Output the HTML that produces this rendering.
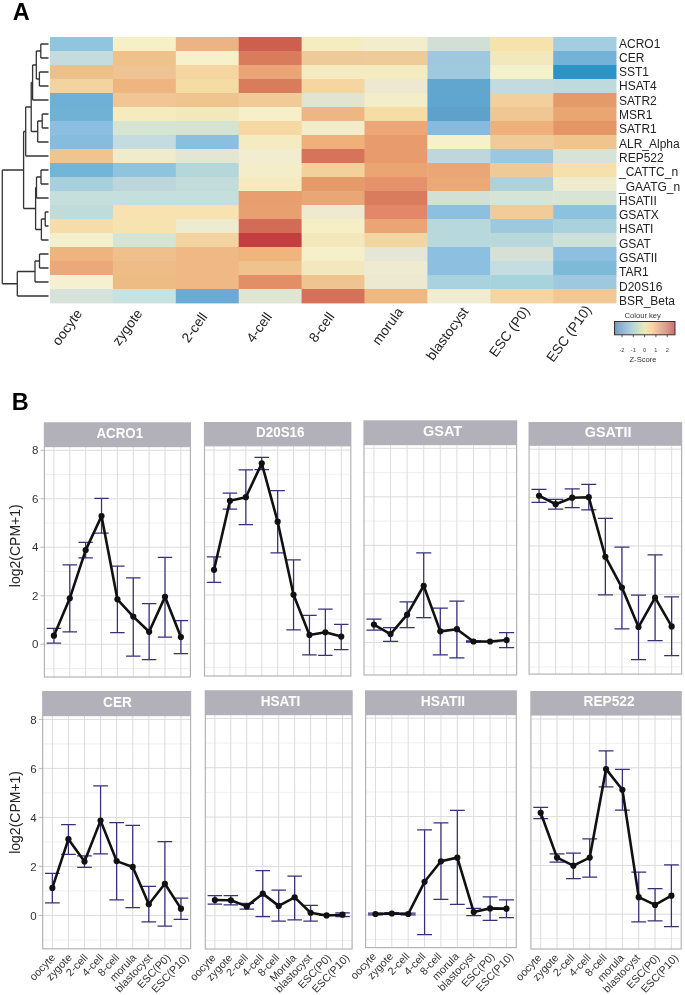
<!DOCTYPE html>
<html><head><meta charset="utf-8"><style>
html,body{margin:0;padding:0;background:#fff;}
svg{display:block;font-family:"Liberation Sans", sans-serif;will-change:transform;}
</style></head><body>
<svg width="685" height="995" viewBox="0 0 685 995">
<rect x="50.00" y="37.00" width="63.30" height="14.40" fill="#8fc6dd"/>
<rect x="50.00" y="51.00" width="63.30" height="14.40" fill="#c5dcdf"/>
<rect x="50.00" y="65.00" width="63.30" height="14.40" fill="#ecc08a"/>
<rect x="50.00" y="79.00" width="63.30" height="14.40" fill="#f3d39f"/>
<rect x="50.00" y="93.00" width="63.30" height="14.40" fill="#6fb1d6"/>
<rect x="50.00" y="107.00" width="63.30" height="14.40" fill="#70b2d6"/>
<rect x="50.00" y="121.00" width="63.30" height="14.40" fill="#8bbee0"/>
<rect x="50.00" y="135.00" width="63.30" height="14.40" fill="#86bcdd"/>
<rect x="50.00" y="149.00" width="63.30" height="14.40" fill="#f0c48f"/>
<rect x="50.00" y="163.00" width="63.30" height="14.40" fill="#72b5d6"/>
<rect x="50.00" y="177.00" width="63.30" height="14.40" fill="#a8d0dc"/>
<rect x="50.00" y="191.00" width="63.30" height="14.40" fill="#c5e0dc"/>
<rect x="50.00" y="205.00" width="63.30" height="14.40" fill="#bddcda"/>
<rect x="50.00" y="219.00" width="63.30" height="14.40" fill="#f6dca8"/>
<rect x="50.00" y="233.00" width="63.30" height="14.40" fill="#f3f1cd"/>
<rect x="50.00" y="247.00" width="63.30" height="14.40" fill="#eeb47f"/>
<rect x="50.00" y="261.00" width="63.30" height="14.40" fill="#eba87b"/>
<rect x="50.00" y="275.00" width="63.30" height="14.40" fill="#f5f0cf"/>
<rect x="50.00" y="289.00" width="63.30" height="14.40" fill="#d6e3db"/>
<rect x="112.90" y="37.00" width="63.30" height="14.40" fill="#f5f0c8"/>
<rect x="112.90" y="51.00" width="63.30" height="14.40" fill="#efc28c"/>
<rect x="112.90" y="65.00" width="63.30" height="14.40" fill="#f0c394"/>
<rect x="112.90" y="79.00" width="63.30" height="14.40" fill="#eeb580"/>
<rect x="112.90" y="93.00" width="63.30" height="14.40" fill="#f0c694"/>
<rect x="112.90" y="107.00" width="63.30" height="14.40" fill="#f5ebbd"/>
<rect x="112.90" y="121.00" width="63.30" height="14.40" fill="#d6e4d2"/>
<rect x="112.90" y="135.00" width="63.30" height="14.40" fill="#c4dbdf"/>
<rect x="112.90" y="149.00" width="63.30" height="14.40" fill="#efebcc"/>
<rect x="112.90" y="163.00" width="63.30" height="14.40" fill="#8ec4de"/>
<rect x="112.90" y="177.00" width="63.30" height="14.40" fill="#bcd6dc"/>
<rect x="112.90" y="191.00" width="63.30" height="14.40" fill="#c5e0dc"/>
<rect x="112.90" y="205.00" width="63.30" height="14.40" fill="#f7e2b0"/>
<rect x="112.90" y="219.00" width="63.30" height="14.40" fill="#f7e3b0"/>
<rect x="112.90" y="233.00" width="63.30" height="14.40" fill="#d5e5d4"/>
<rect x="112.90" y="247.00" width="63.30" height="14.40" fill="#efc08b"/>
<rect x="112.90" y="261.00" width="63.30" height="14.40" fill="#efbb86"/>
<rect x="112.90" y="275.00" width="63.30" height="14.40" fill="#edbc85"/>
<rect x="112.90" y="289.00" width="63.30" height="14.40" fill="#c8e2df"/>
<rect x="175.80" y="37.00" width="63.30" height="14.40" fill="#eeb383"/>
<rect x="175.80" y="51.00" width="63.30" height="14.40" fill="#f6f1cb"/>
<rect x="175.80" y="65.00" width="63.30" height="14.40" fill="#f5d6a0"/>
<rect x="175.80" y="79.00" width="63.30" height="14.40" fill="#f5dca5"/>
<rect x="175.80" y="93.00" width="63.30" height="14.40" fill="#efc48e"/>
<rect x="175.80" y="107.00" width="63.30" height="14.40" fill="#f3e8bb"/>
<rect x="175.80" y="121.00" width="63.30" height="14.40" fill="#d5e3d2"/>
<rect x="175.80" y="135.00" width="63.30" height="14.40" fill="#8bbfe0"/>
<rect x="175.80" y="149.00" width="63.30" height="14.40" fill="#e2e6d2"/>
<rect x="175.80" y="163.00" width="63.30" height="14.40" fill="#b4d8da"/>
<rect x="175.80" y="177.00" width="63.30" height="14.40" fill="#c2dcdc"/>
<rect x="175.80" y="191.00" width="63.30" height="14.40" fill="#c5e0dc"/>
<rect x="175.80" y="205.00" width="63.30" height="14.40" fill="#f7e3b0"/>
<rect x="175.80" y="219.00" width="63.30" height="14.40" fill="#eeecd0"/>
<rect x="175.80" y="233.00" width="63.30" height="14.40" fill="#f3d39f"/>
<rect x="175.80" y="247.00" width="63.30" height="14.40" fill="#efb884"/>
<rect x="175.80" y="261.00" width="63.30" height="14.40" fill="#efb884"/>
<rect x="175.80" y="275.00" width="63.30" height="14.40" fill="#efb884"/>
<rect x="175.80" y="289.00" width="63.30" height="14.40" fill="#69abd5"/>
<rect x="238.70" y="37.00" width="63.30" height="14.40" fill="#ce5e4e"/>
<rect x="238.70" y="51.00" width="63.30" height="14.40" fill="#d87c5c"/>
<rect x="238.70" y="65.00" width="63.30" height="14.40" fill="#eaa576"/>
<rect x="238.70" y="79.00" width="63.30" height="14.40" fill="#d87c5c"/>
<rect x="238.70" y="93.00" width="63.30" height="14.40" fill="#f1ca98"/>
<rect x="238.70" y="107.00" width="63.30" height="14.40" fill="#f6efc9"/>
<rect x="238.70" y="121.00" width="63.30" height="14.40" fill="#f6d8a2"/>
<rect x="238.70" y="135.00" width="63.30" height="14.40" fill="#f5ebc1"/>
<rect x="238.70" y="149.00" width="63.30" height="14.40" fill="#f2ecd1"/>
<rect x="238.70" y="163.00" width="63.30" height="14.40" fill="#f3edca"/>
<rect x="238.70" y="177.00" width="63.30" height="14.40" fill="#f5eac0"/>
<rect x="238.70" y="191.00" width="63.30" height="14.40" fill="#e99e6f"/>
<rect x="238.70" y="205.00" width="63.30" height="14.40" fill="#e9a070"/>
<rect x="238.70" y="219.00" width="63.30" height="14.40" fill="#d36c57"/>
<rect x="238.70" y="233.00" width="63.30" height="14.40" fill="#c33f3f"/>
<rect x="238.70" y="247.00" width="63.30" height="14.40" fill="#f0b47c"/>
<rect x="238.70" y="261.00" width="63.30" height="14.40" fill="#eec38d"/>
<rect x="238.70" y="275.00" width="63.30" height="14.40" fill="#e48e67"/>
<rect x="238.70" y="289.00" width="63.30" height="14.40" fill="#e1e6d3"/>
<rect x="301.60" y="37.00" width="63.30" height="14.40" fill="#f5edc2"/>
<rect x="301.60" y="51.00" width="63.30" height="14.40" fill="#eec99a"/>
<rect x="301.60" y="65.00" width="63.30" height="14.40" fill="#f5ebc0"/>
<rect x="301.60" y="79.00" width="63.30" height="14.40" fill="#f5d6a1"/>
<rect x="301.60" y="93.00" width="63.30" height="14.40" fill="#e1e4d0"/>
<rect x="301.60" y="107.00" width="63.30" height="14.40" fill="#eeb682"/>
<rect x="301.60" y="121.00" width="63.30" height="14.40" fill="#f3ecca"/>
<rect x="301.60" y="135.00" width="63.30" height="14.40" fill="#efb07a"/>
<rect x="301.60" y="149.00" width="63.30" height="14.40" fill="#d6735a"/>
<rect x="301.60" y="163.00" width="63.30" height="14.40" fill="#f2d19b"/>
<rect x="301.60" y="177.00" width="63.30" height="14.40" fill="#e59a6a"/>
<rect x="301.60" y="191.00" width="63.30" height="14.40" fill="#e9a676"/>
<rect x="301.60" y="205.00" width="63.30" height="14.40" fill="#efe9d0"/>
<rect x="301.60" y="219.00" width="63.30" height="14.40" fill="#f6eec4"/>
<rect x="301.60" y="233.00" width="63.30" height="14.40" fill="#f3e8bb"/>
<rect x="301.60" y="247.00" width="63.30" height="14.40" fill="#f5f0ca"/>
<rect x="301.60" y="261.00" width="63.30" height="14.40" fill="#f3e7bd"/>
<rect x="301.60" y="275.00" width="63.30" height="14.40" fill="#f0c490"/>
<rect x="301.60" y="289.00" width="63.30" height="14.40" fill="#d6725a"/>
<rect x="364.50" y="37.00" width="63.30" height="14.40" fill="#f3eccd"/>
<rect x="364.50" y="51.00" width="63.30" height="14.40" fill="#efcb9a"/>
<rect x="364.50" y="65.00" width="63.30" height="14.40" fill="#f5ebc0"/>
<rect x="364.50" y="79.00" width="63.30" height="14.40" fill="#ede8cf"/>
<rect x="364.50" y="93.00" width="63.30" height="14.40" fill="#f3eec9"/>
<rect x="364.50" y="107.00" width="63.30" height="14.40" fill="#f5dda5"/>
<rect x="364.50" y="121.00" width="63.30" height="14.40" fill="#eca677"/>
<rect x="364.50" y="135.00" width="63.30" height="14.40" fill="#e89c6d"/>
<rect x="364.50" y="149.00" width="63.30" height="14.40" fill="#e89c6d"/>
<rect x="364.50" y="163.00" width="63.30" height="14.40" fill="#eba573"/>
<rect x="364.50" y="177.00" width="63.30" height="14.40" fill="#e4916c"/>
<rect x="364.50" y="191.00" width="63.30" height="14.40" fill="#d97c5d"/>
<rect x="364.50" y="205.00" width="63.30" height="14.40" fill="#e3876a"/>
<rect x="364.50" y="219.00" width="63.30" height="14.40" fill="#eba474"/>
<rect x="364.50" y="233.00" width="63.30" height="14.40" fill="#f3d5a2"/>
<rect x="364.50" y="247.00" width="63.30" height="14.40" fill="#e4e6d6"/>
<rect x="364.50" y="261.00" width="63.30" height="14.40" fill="#efebd0"/>
<rect x="364.50" y="275.00" width="63.30" height="14.40" fill="#ede9d1"/>
<rect x="364.50" y="289.00" width="63.30" height="14.40" fill="#efb880"/>
<rect x="427.40" y="37.00" width="63.30" height="14.40" fill="#d2dfd5"/>
<rect x="427.40" y="51.00" width="63.30" height="14.40" fill="#9fc8de"/>
<rect x="427.40" y="65.00" width="63.30" height="14.40" fill="#9fcadd"/>
<rect x="427.40" y="79.00" width="63.30" height="14.40" fill="#61a6cf"/>
<rect x="427.40" y="93.00" width="63.30" height="14.40" fill="#5fa7d0"/>
<rect x="427.40" y="107.00" width="63.30" height="14.40" fill="#5ea2cc"/>
<rect x="427.40" y="121.00" width="63.30" height="14.40" fill="#86bade"/>
<rect x="427.40" y="135.00" width="63.30" height="14.40" fill="#f6f1cb"/>
<rect x="427.40" y="149.00" width="63.30" height="14.40" fill="#bfd6dc"/>
<rect x="427.40" y="163.00" width="63.30" height="14.40" fill="#eaa674"/>
<rect x="427.40" y="177.00" width="63.30" height="14.40" fill="#eca875"/>
<rect x="427.40" y="191.00" width="63.30" height="14.40" fill="#d2e0d5"/>
<rect x="427.40" y="205.00" width="63.30" height="14.40" fill="#8dc0e0"/>
<rect x="427.40" y="219.00" width="63.30" height="14.40" fill="#b9d8dc"/>
<rect x="427.40" y="233.00" width="63.30" height="14.40" fill="#b7d8dc"/>
<rect x="427.40" y="247.00" width="63.30" height="14.40" fill="#8cbfe0"/>
<rect x="427.40" y="261.00" width="63.30" height="14.40" fill="#8cbfe0"/>
<rect x="427.40" y="275.00" width="63.30" height="14.40" fill="#a9d1de"/>
<rect x="427.40" y="289.00" width="63.30" height="14.40" fill="#f1ecd0"/>
<rect x="490.30" y="37.00" width="63.30" height="14.40" fill="#f6e2ab"/>
<rect x="490.30" y="51.00" width="63.30" height="14.40" fill="#f3e8bb"/>
<rect x="490.30" y="65.00" width="63.30" height="14.40" fill="#f6f1cd"/>
<rect x="490.30" y="79.00" width="63.30" height="14.40" fill="#c3dbde"/>
<rect x="490.30" y="93.00" width="63.30" height="14.40" fill="#f2cf9c"/>
<rect x="490.30" y="107.00" width="63.30" height="14.40" fill="#f0c693"/>
<rect x="490.30" y="121.00" width="63.30" height="14.40" fill="#eeb17c"/>
<rect x="490.30" y="135.00" width="63.30" height="14.40" fill="#eecb99"/>
<rect x="490.30" y="149.00" width="63.30" height="14.40" fill="#9cc7e0"/>
<rect x="490.30" y="163.00" width="63.30" height="14.40" fill="#efca99"/>
<rect x="490.30" y="177.00" width="63.30" height="14.40" fill="#afd2da"/>
<rect x="490.30" y="191.00" width="63.30" height="14.40" fill="#d6e4d6"/>
<rect x="490.30" y="205.00" width="63.30" height="14.40" fill="#f1cc98"/>
<rect x="490.30" y="219.00" width="63.30" height="14.40" fill="#9dc9de"/>
<rect x="490.30" y="233.00" width="63.30" height="14.40" fill="#b9d8dc"/>
<rect x="490.30" y="247.00" width="63.30" height="14.40" fill="#d6e0d5"/>
<rect x="490.30" y="261.00" width="63.30" height="14.40" fill="#c3dde0"/>
<rect x="490.30" y="275.00" width="63.30" height="14.40" fill="#a7d3dc"/>
<rect x="490.30" y="289.00" width="63.30" height="14.40" fill="#f5d6a2"/>
<rect x="553.20" y="37.00" width="63.30" height="14.40" fill="#a3cde0"/>
<rect x="553.20" y="51.00" width="63.30" height="14.40" fill="#74b3d8"/>
<rect x="553.20" y="65.00" width="63.30" height="14.40" fill="#2b93c5"/>
<rect x="553.20" y="79.00" width="63.30" height="14.40" fill="#bedadc"/>
<rect x="553.20" y="93.00" width="63.30" height="14.40" fill="#e59a6a"/>
<rect x="553.20" y="107.00" width="63.30" height="14.40" fill="#e9a572"/>
<rect x="553.20" y="121.00" width="63.30" height="14.40" fill="#e59665"/>
<rect x="553.20" y="135.00" width="63.30" height="14.40" fill="#efc48d"/>
<rect x="553.20" y="149.00" width="63.30" height="14.40" fill="#d6e3d8"/>
<rect x="553.20" y="163.00" width="63.30" height="14.40" fill="#f6e1ab"/>
<rect x="553.20" y="177.00" width="63.30" height="14.40" fill="#efebcf"/>
<rect x="553.20" y="191.00" width="63.30" height="14.40" fill="#d8e5d6"/>
<rect x="553.20" y="205.00" width="63.30" height="14.40" fill="#8dc2df"/>
<rect x="553.20" y="219.00" width="63.30" height="14.40" fill="#a9d1de"/>
<rect x="553.20" y="233.00" width="63.30" height="14.40" fill="#cde0d9"/>
<rect x="553.20" y="247.00" width="63.30" height="14.40" fill="#8dc0e0"/>
<rect x="553.20" y="261.00" width="63.30" height="14.40" fill="#7cbad8"/>
<rect x="553.20" y="275.00" width="63.30" height="14.40" fill="#9fc8df"/>
<rect x="553.20" y="289.00" width="63.30" height="14.40" fill="#f1c893"/>
<text x="619" y="47.60" font-size="12" fill="#222">ACRO1</text>
<text x="619" y="61.89" font-size="12" fill="#222">CER</text>
<text x="619" y="76.18" font-size="12" fill="#222">SST1</text>
<text x="619" y="90.47" font-size="12" fill="#222">HSAT4</text>
<text x="619" y="104.76" font-size="12" fill="#222">SATR2</text>
<text x="619" y="119.05" font-size="12" fill="#222">MSR1</text>
<text x="619" y="133.34" font-size="12" fill="#222">SATR1</text>
<text x="619" y="147.63" font-size="12" fill="#222">ALR_Alpha</text>
<text x="619" y="161.92" font-size="12" fill="#222">REP522</text>
<text x="619" y="176.21" font-size="12" fill="#222">_CATTC_n</text>
<text x="619" y="190.50" font-size="12" fill="#222">_GAATG_n</text>
<text x="619" y="204.79" font-size="12" fill="#222">HSATII</text>
<text x="619" y="219.08" font-size="12" fill="#222">GSATX</text>
<text x="619" y="233.37" font-size="12" fill="#222">HSATI</text>
<text x="619" y="247.66" font-size="12" fill="#222">GSAT</text>
<text x="619" y="261.95" font-size="12" fill="#222">GSATII</text>
<text x="619" y="276.24" font-size="12" fill="#222">TAR1</text>
<text x="619" y="290.53" font-size="12" fill="#222">D20S16</text>
<text x="619" y="304.82" font-size="12" fill="#222">BSR_Beta</text>
<text transform="translate(74.95,307.8) rotate(-54)" text-anchor="end" dy="0.7em" font-size="13.8" fill="#222">oocyte</text>
<text transform="translate(135.25,307.8) rotate(-54)" text-anchor="end" dy="0.7em" font-size="13.8" fill="#222">zygote</text>
<text transform="translate(200.15,311.2) rotate(-54)" text-anchor="end" dy="0.7em" font-size="13.8" fill="#222">2-cell</text>
<text transform="translate(264.75,311.1) rotate(-54)" text-anchor="end" dy="0.7em" font-size="13.8" fill="#222">4-cell</text>
<text transform="translate(327.25,310.9) rotate(-54)" text-anchor="end" dy="0.7em" font-size="13.8" fill="#222">8-cell</text>
<text transform="translate(396.05,306.2) rotate(-54)" text-anchor="end" dy="0.7em" font-size="13.8" fill="#222">morula</text>
<text transform="translate(461.25,305.9) rotate(-54)" text-anchor="end" dy="0.7em" font-size="13.8" fill="#222">blastocyst</text>
<text transform="translate(522.45,305.2) rotate(-54)" text-anchor="end" dy="0.7em" font-size="13.8" fill="#222">ESC (P0)</text>
<text transform="translate(584.25,304.0) rotate(-54)" text-anchor="end" dy="0.7em" font-size="13.8" fill="#222">ESC (P10)</text>
<path d="M40.8,44H48.5 M40.8,58H48.5 M40.8,44V58 M39.4,72H48.5 M39.4,86H48.5 M39.4,72V86 M36.3,51H40.8 M36.3,79H39.4 M36.3,51V79 M32.6,65H36.3 M32.6,100H48.5 M32.6,65V100 M42.2,114H48.5 M42.2,128H48.5 M42.2,114V128 M37.7,121H42.2 M37.7,142H48.5 M37.7,121V142 M31.2,82.5H32.6 M31.2,131.5H37.7 M31.2,82.5V131.5 M25.7,107H31.2 M25.7,156H48.5 M25.7,107V156 M23.6,131.5H25.7 M41,170H48.5 M41,184H48.5 M41,170V184 M36.5,177H41 M36.5,198H48.5 M36.5,177V198 M45.2,212H48.5 M45.2,226H48.5 M45.2,212V226 M41.4,219H45.2 M41.4,240H48.5 M41.4,219V240 M35.6,187.5H36.5 M35.6,229.5H41.4 M35.6,187.5V229.5 M23.6,208.5H35.6 M23.6,131.5V208.5 M2.3,170H23.6 M39.5,254H48.5 M39.5,268H48.5 M39.5,254V268 M35,261H39.5 M35,282H48.5 M35,261V282 M17.3,271.5H35 M17.3,296H48.5 M17.3,271.5V296 M2.3,283.75H17.3 M2.3,170V283.75" stroke="#333" stroke-width="1.3" fill="none"/>
<defs><linearGradient id="ck" x1="0" x2="1" y1="0" y2="0"><stop offset="0" stop-color="#4a9fc8"/><stop offset="0.05" stop-color="#7fa9c6"/><stop offset="0.2" stop-color="#a6c0dc"/><stop offset="0.3" stop-color="#b3d6d6"/><stop offset="0.4" stop-color="#cfe2c8"/><stop offset="0.5" stop-color="#ede9b6"/><stop offset="0.62" stop-color="#fbd4a7"/><stop offset="0.75" stop-color="#e9b497"/><stop offset="0.85" stop-color="#d99f8b"/><stop offset="1" stop-color="#cf6d78"/></linearGradient></defs>
<rect x="614.5" y="321.5" width="60.5" height="13.3" fill="url(#ck)" stroke="#3a3330" stroke-width="1"/>
<line x1="622" y1="334.8" x2="622" y2="337.2" stroke="#333" stroke-width="0.8"/>
<text x="622" y="351.5" font-size="5.6" fill="#444" text-anchor="middle">-2</text>
<line x1="633.3" y1="334.8" x2="633.3" y2="337.2" stroke="#333" stroke-width="0.8"/>
<text x="633.3" y="351.5" font-size="5.6" fill="#444" text-anchor="middle">-1</text>
<line x1="644.6" y1="334.8" x2="644.6" y2="337.2" stroke="#333" stroke-width="0.8"/>
<text x="644.6" y="351.5" font-size="5.6" fill="#444" text-anchor="middle">0</text>
<line x1="655.9" y1="334.8" x2="655.9" y2="337.2" stroke="#333" stroke-width="0.8"/>
<text x="655.9" y="351.5" font-size="5.6" fill="#444" text-anchor="middle">1</text>
<line x1="667.2" y1="334.8" x2="667.2" y2="337.2" stroke="#333" stroke-width="0.8"/>
<text x="667.2" y="351.5" font-size="5.6" fill="#444" text-anchor="middle">2</text>
<text x="642.7" y="318.0" font-size="7.6" fill="#333" text-anchor="middle">Colour key</text>
<text x="643" y="361.5" font-size="7.6" fill="#333" text-anchor="middle">Z-Score</text>
<text x="12.7" y="19.7" font-size="23.5" font-weight="bold" fill="#000">A</text>
<text x="11.8" y="409.7" font-size="23.5" font-weight="bold" fill="#000">B</text>
<rect x="44.4" y="446.6" width="146.0" height="230.39999999999998" fill="#fff"/>
<line x1="44.4" x2="190.4" y1="668.50" y2="668.50" stroke="#ebebeb" stroke-width="0.8"/>
<line x1="44.4" x2="190.4" y1="620.01" y2="620.01" stroke="#ebebeb" stroke-width="0.8"/>
<line x1="44.4" x2="190.4" y1="571.52" y2="571.52" stroke="#ebebeb" stroke-width="0.8"/>
<line x1="44.4" x2="190.4" y1="523.03" y2="523.03" stroke="#ebebeb" stroke-width="0.8"/>
<line x1="44.4" x2="190.4" y1="474.54" y2="474.54" stroke="#ebebeb" stroke-width="0.8"/>
<line x1="44.4" x2="190.4" y1="644.26" y2="644.26" stroke="#dcdcdc" stroke-width="1"/>
<line x1="44.4" x2="190.4" y1="595.77" y2="595.77" stroke="#dcdcdc" stroke-width="1"/>
<line x1="44.4" x2="190.4" y1="547.28" y2="547.28" stroke="#dcdcdc" stroke-width="1"/>
<line x1="44.4" x2="190.4" y1="498.79" y2="498.79" stroke="#dcdcdc" stroke-width="1"/>
<line x1="44.4" x2="190.4" y1="450.30" y2="450.30" stroke="#dcdcdc" stroke-width="1"/>
<line x1="53.92" x2="53.92" y1="446.6" y2="677.0" stroke="#dcdcdc" stroke-width="1"/>
<line x1="69.79" x2="69.79" y1="446.6" y2="677.0" stroke="#dcdcdc" stroke-width="1"/>
<line x1="85.66" x2="85.66" y1="446.6" y2="677.0" stroke="#dcdcdc" stroke-width="1"/>
<line x1="101.53" x2="101.53" y1="446.6" y2="677.0" stroke="#dcdcdc" stroke-width="1"/>
<line x1="117.40" x2="117.40" y1="446.6" y2="677.0" stroke="#dcdcdc" stroke-width="1"/>
<line x1="133.27" x2="133.27" y1="446.6" y2="677.0" stroke="#dcdcdc" stroke-width="1"/>
<line x1="149.14" x2="149.14" y1="446.6" y2="677.0" stroke="#dcdcdc" stroke-width="1"/>
<line x1="165.01" x2="165.01" y1="446.6" y2="677.0" stroke="#dcdcdc" stroke-width="1"/>
<line x1="180.88" x2="180.88" y1="446.6" y2="677.0" stroke="#dcdcdc" stroke-width="1"/>
<rect x="44.4" y="446.6" width="146.0" height="230.39999999999998" fill="none" stroke="#b4b4b4" stroke-width="1.2"/>
<rect x="43.8" y="422.3" width="147.2" height="24.30000000000001" fill="#b2b1ba"/>
<text x="119.80" y="438.10" font-size="14" font-weight="bold" fill="#fff" text-anchor="middle" textLength="46.60" lengthAdjust="spacingAndGlyphs">ACRO1</text>
<path d="M46.70,628.42H61.14M46.70,643.12H61.14M53.92,628.42V643.12M62.57,564.79H77.01M62.57,631.79H77.01M69.79,564.79V631.79M78.44,542.38H92.88M78.44,557.80H92.88M85.66,542.38V557.80M94.31,498.28H108.75M94.31,533.22H108.75M101.53,498.28V533.22M110.18,566.00H124.62M110.18,632.51H124.62M117.40,566.00V632.51M126.05,577.81H140.49M126.05,656.13H140.49M133.27,577.81V656.13M141.92,603.59H156.36M141.92,659.51H156.36M149.14,603.59V659.51M157.79,557.32H172.23M157.79,637.09H172.23M165.01,557.32V637.09M173.66,620.71H188.10M173.66,653.72H188.10M180.88,620.71V653.72" stroke="#35307a" stroke-width="1.25" fill="none"/>
<polyline points="53.92,635.65 69.79,598.29 85.66,550.09 101.53,516.11 117.40,599.26 133.27,616.61 149.14,631.79 165.01,596.85 180.88,637.09" stroke="#111" stroke-width="2.6" fill="none" stroke-linejoin="round"/>
<circle cx="53.92" cy="635.65" r="3.1" fill="#111"/>
<circle cx="69.79" cy="598.29" r="3.1" fill="#111"/>
<circle cx="85.66" cy="550.09" r="3.1" fill="#111"/>
<circle cx="101.53" cy="516.11" r="3.1" fill="#111"/>
<circle cx="117.40" cy="599.26" r="3.1" fill="#111"/>
<circle cx="133.27" cy="616.61" r="3.1" fill="#111"/>
<circle cx="149.14" cy="631.79" r="3.1" fill="#111"/>
<circle cx="165.01" cy="596.85" r="3.1" fill="#111"/>
<circle cx="180.88" cy="637.09" r="3.1" fill="#111"/>
<line x1="40.4" x2="44.4" y1="644.26" y2="644.26" stroke="#aaa" stroke-width="0.8"/>
<text x="38.4" y="648.36" font-size="11.5" fill="#333" text-anchor="end">0</text>
<line x1="40.4" x2="44.4" y1="595.77" y2="595.77" stroke="#aaa" stroke-width="0.8"/>
<text x="38.4" y="599.87" font-size="11.5" fill="#333" text-anchor="end">2</text>
<line x1="40.4" x2="44.4" y1="547.28" y2="547.28" stroke="#aaa" stroke-width="0.8"/>
<text x="38.4" y="551.38" font-size="11.5" fill="#333" text-anchor="end">4</text>
<line x1="40.4" x2="44.4" y1="498.79" y2="498.79" stroke="#aaa" stroke-width="0.8"/>
<text x="38.4" y="502.89" font-size="11.5" fill="#333" text-anchor="end">6</text>
<line x1="40.4" x2="44.4" y1="450.30" y2="450.30" stroke="#aaa" stroke-width="0.8"/>
<text x="38.4" y="454.40" font-size="11.5" fill="#333" text-anchor="end">8</text>
<text transform="translate(20,545.70) rotate(-90)" font-size="14" fill="#222" text-anchor="middle">log2(CPM+1)</text>
<rect x="204.5" y="445.8" width="146.3" height="230.2" fill="#fff"/>
<line x1="204.5" x2="350.8" y1="667.40" y2="667.40" stroke="#ebebeb" stroke-width="0.8"/>
<line x1="204.5" x2="350.8" y1="619.11" y2="619.11" stroke="#ebebeb" stroke-width="0.8"/>
<line x1="204.5" x2="350.8" y1="570.82" y2="570.82" stroke="#ebebeb" stroke-width="0.8"/>
<line x1="204.5" x2="350.8" y1="522.53" y2="522.53" stroke="#ebebeb" stroke-width="0.8"/>
<line x1="204.5" x2="350.8" y1="474.24" y2="474.24" stroke="#ebebeb" stroke-width="0.8"/>
<line x1="204.5" x2="350.8" y1="643.26" y2="643.26" stroke="#dcdcdc" stroke-width="1"/>
<line x1="204.5" x2="350.8" y1="594.97" y2="594.97" stroke="#dcdcdc" stroke-width="1"/>
<line x1="204.5" x2="350.8" y1="546.68" y2="546.68" stroke="#dcdcdc" stroke-width="1"/>
<line x1="204.5" x2="350.8" y1="498.39" y2="498.39" stroke="#dcdcdc" stroke-width="1"/>
<line x1="204.5" x2="350.8" y1="450.10" y2="450.10" stroke="#dcdcdc" stroke-width="1"/>
<line x1="214.04" x2="214.04" y1="445.8" y2="676.0" stroke="#dcdcdc" stroke-width="1"/>
<line x1="229.94" x2="229.94" y1="445.8" y2="676.0" stroke="#dcdcdc" stroke-width="1"/>
<line x1="245.85" x2="245.85" y1="445.8" y2="676.0" stroke="#dcdcdc" stroke-width="1"/>
<line x1="261.75" x2="261.75" y1="445.8" y2="676.0" stroke="#dcdcdc" stroke-width="1"/>
<line x1="277.65" x2="277.65" y1="445.8" y2="676.0" stroke="#dcdcdc" stroke-width="1"/>
<line x1="293.55" x2="293.55" y1="445.8" y2="676.0" stroke="#dcdcdc" stroke-width="1"/>
<line x1="309.45" x2="309.45" y1="445.8" y2="676.0" stroke="#dcdcdc" stroke-width="1"/>
<line x1="325.36" x2="325.36" y1="445.8" y2="676.0" stroke="#dcdcdc" stroke-width="1"/>
<line x1="341.26" x2="341.26" y1="445.8" y2="676.0" stroke="#dcdcdc" stroke-width="1"/>
<rect x="204.5" y="445.8" width="146.3" height="230.2" fill="none" stroke="#b4b4b4" stroke-width="1.2"/>
<rect x="203.9" y="422.0" width="147.5" height="23.80000000000001" fill="#b2b1ba"/>
<text x="280.30" y="437.30" font-size="14" font-weight="bold" fill="#fff" text-anchor="middle" textLength="48.40" lengthAdjust="spacingAndGlyphs">D20S16</text>
<path d="M206.81,556.75H221.28M206.81,582.40H221.28M214.04,556.75V582.40M222.71,493.10H237.18M222.71,509.07H237.18M229.94,493.10V509.07M238.61,469.87H253.08M238.61,524.56H253.08M245.85,469.87V524.56M254.51,457.29H268.98M254.51,469.63H268.98M261.75,457.29V469.63M270.41,490.68H284.89M270.41,552.88H284.89M277.65,490.68V552.88M286.32,559.89H300.79M286.32,629.83H300.79M293.55,559.89V629.83M302.22,615.31H316.69M302.22,654.76H316.69M309.45,615.31V654.76M318.12,609.02H332.59M318.12,655.48H332.59M325.36,609.02V655.48M334.02,624.27H348.49M334.02,649.68H348.49M341.26,624.27V649.68" stroke="#35307a" stroke-width="1.25" fill="none"/>
<polyline points="214.04,569.82 229.94,500.85 245.85,497.22 261.75,463.34 277.65,521.66 293.55,594.74 309.45,634.91 325.36,632.25 341.26,636.61" stroke="#111" stroke-width="2.6" fill="none" stroke-linejoin="round"/>
<circle cx="214.04" cy="569.82" r="3.1" fill="#111"/>
<circle cx="229.94" cy="500.85" r="3.1" fill="#111"/>
<circle cx="245.85" cy="497.22" r="3.1" fill="#111"/>
<circle cx="261.75" cy="463.34" r="3.1" fill="#111"/>
<circle cx="277.65" cy="521.66" r="3.1" fill="#111"/>
<circle cx="293.55" cy="594.74" r="3.1" fill="#111"/>
<circle cx="309.45" cy="634.91" r="3.1" fill="#111"/>
<circle cx="325.36" cy="632.25" r="3.1" fill="#111"/>
<circle cx="341.26" cy="636.61" r="3.1" fill="#111"/>
<rect x="364.0" y="444.6" width="152.60000000000002" height="230.39999999999998" fill="#fff"/>
<line x1="364.0" x2="516.6" y1="666.70" y2="666.70" stroke="#ebebeb" stroke-width="0.8"/>
<line x1="364.0" x2="516.6" y1="618.17" y2="618.17" stroke="#ebebeb" stroke-width="0.8"/>
<line x1="364.0" x2="516.6" y1="569.63" y2="569.63" stroke="#ebebeb" stroke-width="0.8"/>
<line x1="364.0" x2="516.6" y1="521.10" y2="521.10" stroke="#ebebeb" stroke-width="0.8"/>
<line x1="364.0" x2="516.6" y1="472.57" y2="472.57" stroke="#ebebeb" stroke-width="0.8"/>
<line x1="364.0" x2="516.6" y1="642.43" y2="642.43" stroke="#dcdcdc" stroke-width="1"/>
<line x1="364.0" x2="516.6" y1="593.90" y2="593.90" stroke="#dcdcdc" stroke-width="1"/>
<line x1="364.0" x2="516.6" y1="545.37" y2="545.37" stroke="#dcdcdc" stroke-width="1"/>
<line x1="364.0" x2="516.6" y1="496.83" y2="496.83" stroke="#dcdcdc" stroke-width="1"/>
<line x1="364.0" x2="516.6" y1="448.30" y2="448.30" stroke="#dcdcdc" stroke-width="1"/>
<line x1="373.95" x2="373.95" y1="444.6" y2="675.0" stroke="#dcdcdc" stroke-width="1"/>
<line x1="390.54" x2="390.54" y1="444.6" y2="675.0" stroke="#dcdcdc" stroke-width="1"/>
<line x1="407.13" x2="407.13" y1="444.6" y2="675.0" stroke="#dcdcdc" stroke-width="1"/>
<line x1="423.71" x2="423.71" y1="444.6" y2="675.0" stroke="#dcdcdc" stroke-width="1"/>
<line x1="440.30" x2="440.30" y1="444.6" y2="675.0" stroke="#dcdcdc" stroke-width="1"/>
<line x1="456.89" x2="456.89" y1="444.6" y2="675.0" stroke="#dcdcdc" stroke-width="1"/>
<line x1="473.47" x2="473.47" y1="444.6" y2="675.0" stroke="#dcdcdc" stroke-width="1"/>
<line x1="490.06" x2="490.06" y1="444.6" y2="675.0" stroke="#dcdcdc" stroke-width="1"/>
<line x1="506.65" x2="506.65" y1="444.6" y2="675.0" stroke="#dcdcdc" stroke-width="1"/>
<rect x="364.0" y="444.6" width="152.60000000000002" height="230.39999999999998" fill="none" stroke="#b4b4b4" stroke-width="1.2"/>
<rect x="363.4" y="420.3" width="153.8" height="24.30000000000001" fill="#b2b1ba"/>
<text x="442.65" y="436.20" font-size="14" font-weight="bold" fill="#fff" text-anchor="middle" textLength="39.10" lengthAdjust="spacingAndGlyphs">GSAT</text>
<path d="M366.41,619.06H381.50M366.41,630.17H381.50M373.95,619.06V630.17M382.99,627.51H398.09M382.99,641.28H398.09M390.54,627.51V641.28M399.58,601.91H414.67M399.58,627.51H414.67M407.13,601.91V627.51M416.17,552.89H431.26M416.17,617.61H431.26M423.71,552.89V617.61M432.75,608.19H447.85M432.75,654.80H447.85M440.30,608.19V654.80M449.34,601.19H464.43M449.34,657.94H464.43M456.89,601.19V657.94M465.93,640.79H481.02M465.93,642.24H481.02M473.47,640.79V642.24M482.51,641.52H497.61M482.51,641.52H497.61M490.06,641.52V641.52M499.10,632.58H514.19M499.10,647.55H514.19M506.65,632.58V647.55" stroke="#35307a" stroke-width="1.25" fill="none"/>
<polyline points="373.95,624.61 390.54,634.03 407.13,614.71 423.71,585.73 440.30,631.37 456.89,629.20 473.47,641.52 490.06,641.52 506.65,640.07" stroke="#111" stroke-width="2.6" fill="none" stroke-linejoin="round"/>
<circle cx="373.95" cy="624.61" r="3.1" fill="#111"/>
<circle cx="390.54" cy="634.03" r="3.1" fill="#111"/>
<circle cx="407.13" cy="614.71" r="3.1" fill="#111"/>
<circle cx="423.71" cy="585.73" r="3.1" fill="#111"/>
<circle cx="440.30" cy="631.37" r="3.1" fill="#111"/>
<circle cx="456.89" cy="629.20" r="3.1" fill="#111"/>
<circle cx="473.47" cy="641.52" r="3.1" fill="#111"/>
<circle cx="490.06" cy="641.52" r="3.1" fill="#111"/>
<circle cx="506.65" cy="640.07" r="3.1" fill="#111"/>
<rect x="529.1" y="445.2" width="152.5" height="228.90000000000003" fill="#fff"/>
<line x1="529.1" x2="681.6" y1="666.90" y2="666.90" stroke="#ebebeb" stroke-width="0.8"/>
<line x1="529.1" x2="681.6" y1="618.52" y2="618.52" stroke="#ebebeb" stroke-width="0.8"/>
<line x1="529.1" x2="681.6" y1="570.14" y2="570.14" stroke="#ebebeb" stroke-width="0.8"/>
<line x1="529.1" x2="681.6" y1="521.77" y2="521.77" stroke="#ebebeb" stroke-width="0.8"/>
<line x1="529.1" x2="681.6" y1="473.39" y2="473.39" stroke="#ebebeb" stroke-width="0.8"/>
<line x1="529.1" x2="681.6" y1="642.71" y2="642.71" stroke="#dcdcdc" stroke-width="1"/>
<line x1="529.1" x2="681.6" y1="594.33" y2="594.33" stroke="#dcdcdc" stroke-width="1"/>
<line x1="529.1" x2="681.6" y1="545.96" y2="545.96" stroke="#dcdcdc" stroke-width="1"/>
<line x1="529.1" x2="681.6" y1="497.58" y2="497.58" stroke="#dcdcdc" stroke-width="1"/>
<line x1="529.1" x2="681.6" y1="449.20" y2="449.20" stroke="#dcdcdc" stroke-width="1"/>
<line x1="539.05" x2="539.05" y1="445.2" y2="674.1" stroke="#dcdcdc" stroke-width="1"/>
<line x1="555.62" x2="555.62" y1="445.2" y2="674.1" stroke="#dcdcdc" stroke-width="1"/>
<line x1="572.20" x2="572.20" y1="445.2" y2="674.1" stroke="#dcdcdc" stroke-width="1"/>
<line x1="588.77" x2="588.77" y1="445.2" y2="674.1" stroke="#dcdcdc" stroke-width="1"/>
<line x1="605.35" x2="605.35" y1="445.2" y2="674.1" stroke="#dcdcdc" stroke-width="1"/>
<line x1="621.93" x2="621.93" y1="445.2" y2="674.1" stroke="#dcdcdc" stroke-width="1"/>
<line x1="638.50" x2="638.50" y1="445.2" y2="674.1" stroke="#dcdcdc" stroke-width="1"/>
<line x1="655.08" x2="655.08" y1="445.2" y2="674.1" stroke="#dcdcdc" stroke-width="1"/>
<line x1="671.65" x2="671.65" y1="445.2" y2="674.1" stroke="#dcdcdc" stroke-width="1"/>
<rect x="529.1" y="445.2" width="152.5" height="228.90000000000003" fill="none" stroke="#b4b4b4" stroke-width="1.2"/>
<rect x="528.5" y="422.0" width="153.7" height="23.19999999999999" fill="#b2b1ba"/>
<text x="608.15" y="437.10" font-size="14" font-weight="bold" fill="#fff" text-anchor="middle" textLength="46.90" lengthAdjust="spacingAndGlyphs">GSATII</text>
<path d="M531.50,489.26H546.59M531.50,502.28H546.59M539.05,489.26V502.28M548.08,499.39H563.16M548.08,509.03H563.16M555.62,499.39V509.03M564.66,488.78H579.74M564.66,507.58H579.74M572.20,488.78V507.58M581.23,484.44H596.32M581.23,509.99H596.32M588.77,484.44V509.99M597.81,518.43H612.89M597.81,594.82H612.89M605.35,518.43V594.82M614.38,547.10H629.47M614.38,628.80H629.47M621.93,547.10V628.80M630.96,595.06H646.04M630.96,659.65H646.04M638.50,595.06V659.65M647.54,554.82H662.62M647.54,640.61H662.62M655.08,554.82V640.61M664.11,596.99H679.20M664.11,655.55H679.20M671.65,596.99V655.55" stroke="#35307a" stroke-width="1.25" fill="none"/>
<polyline points="539.05,495.77 555.62,504.21 572.20,497.70 588.77,497.22 605.35,556.74 621.93,587.59 638.50,627.12 655.08,597.71 671.65,626.39" stroke="#111" stroke-width="2.6" fill="none" stroke-linejoin="round"/>
<circle cx="539.05" cy="495.77" r="3.1" fill="#111"/>
<circle cx="555.62" cy="504.21" r="3.1" fill="#111"/>
<circle cx="572.20" cy="497.70" r="3.1" fill="#111"/>
<circle cx="588.77" cy="497.22" r="3.1" fill="#111"/>
<circle cx="605.35" cy="556.74" r="3.1" fill="#111"/>
<circle cx="621.93" cy="587.59" r="3.1" fill="#111"/>
<circle cx="638.50" cy="627.12" r="3.1" fill="#111"/>
<circle cx="655.08" cy="597.71" r="3.1" fill="#111"/>
<circle cx="671.65" cy="626.39" r="3.1" fill="#111"/>
<rect x="42.7" y="715.6" width="147.89999999999998" height="233.19999999999993" fill="#fff"/>
<line x1="42.7" x2="190.6" y1="939.90" y2="939.90" stroke="#ebebeb" stroke-width="0.8"/>
<line x1="42.7" x2="190.6" y1="890.90" y2="890.90" stroke="#ebebeb" stroke-width="0.8"/>
<line x1="42.7" x2="190.6" y1="841.90" y2="841.90" stroke="#ebebeb" stroke-width="0.8"/>
<line x1="42.7" x2="190.6" y1="792.90" y2="792.90" stroke="#ebebeb" stroke-width="0.8"/>
<line x1="42.7" x2="190.6" y1="743.90" y2="743.90" stroke="#ebebeb" stroke-width="0.8"/>
<line x1="42.7" x2="190.6" y1="915.40" y2="915.40" stroke="#dcdcdc" stroke-width="1"/>
<line x1="42.7" x2="190.6" y1="866.40" y2="866.40" stroke="#dcdcdc" stroke-width="1"/>
<line x1="42.7" x2="190.6" y1="817.40" y2="817.40" stroke="#dcdcdc" stroke-width="1"/>
<line x1="42.7" x2="190.6" y1="768.40" y2="768.40" stroke="#dcdcdc" stroke-width="1"/>
<line x1="42.7" x2="190.6" y1="719.40" y2="719.40" stroke="#dcdcdc" stroke-width="1"/>
<line x1="52.35" x2="52.35" y1="715.6" y2="948.8" stroke="#dcdcdc" stroke-width="1"/>
<line x1="68.42" x2="68.42" y1="715.6" y2="948.8" stroke="#dcdcdc" stroke-width="1"/>
<line x1="84.50" x2="84.50" y1="715.6" y2="948.8" stroke="#dcdcdc" stroke-width="1"/>
<line x1="100.57" x2="100.57" y1="715.6" y2="948.8" stroke="#dcdcdc" stroke-width="1"/>
<line x1="116.65" x2="116.65" y1="715.6" y2="948.8" stroke="#dcdcdc" stroke-width="1"/>
<line x1="132.73" x2="132.73" y1="715.6" y2="948.8" stroke="#dcdcdc" stroke-width="1"/>
<line x1="148.80" x2="148.80" y1="715.6" y2="948.8" stroke="#dcdcdc" stroke-width="1"/>
<line x1="164.88" x2="164.88" y1="715.6" y2="948.8" stroke="#dcdcdc" stroke-width="1"/>
<line x1="180.95" x2="180.95" y1="715.6" y2="948.8" stroke="#dcdcdc" stroke-width="1"/>
<rect x="42.7" y="715.6" width="147.89999999999998" height="233.19999999999993" fill="none" stroke="#b4b4b4" stroke-width="1.2"/>
<rect x="42.1" y="691.0" width="149.09999999999997" height="24.600000000000023" fill="#b2b1ba"/>
<text x="117.40" y="706.80" font-size="14" font-weight="bold" fill="#fff" text-anchor="middle" textLength="28.60" lengthAdjust="spacingAndGlyphs">CER</text>
<path d="M45.03,873.29H59.66M45.03,902.80H59.66M52.35,873.29V902.80M61.11,824.51H75.74M61.11,854.27H75.74M68.42,824.51V854.27M77.18,855.98H91.81M77.18,867.44H91.81M84.50,855.98V867.44M93.26,785.98H107.89M93.26,853.78H107.89M100.57,785.98V853.78M109.34,822.56H123.96M109.34,899.88H123.96M116.65,822.56V899.88M125.41,825.49H140.04M125.41,907.68H140.04M132.73,825.49V907.68M141.49,886.46H156.12M141.49,921.83H156.12M148.80,886.46V921.83M157.56,841.59H172.19M157.56,926.22H172.19M164.88,841.59V926.22M173.64,898.17H188.27M173.64,919.39H188.27M180.95,898.17V919.39" stroke="#35307a" stroke-width="1.25" fill="none"/>
<polyline points="52.35,887.93 68.42,839.15 84.50,861.59 100.57,820.61 116.65,861.10 132.73,866.95 148.80,904.27 164.88,883.78 180.95,908.66" stroke="#111" stroke-width="2.6" fill="none" stroke-linejoin="round"/>
<circle cx="52.35" cy="887.93" r="3.1" fill="#111"/>
<circle cx="68.42" cy="839.15" r="3.1" fill="#111"/>
<circle cx="84.50" cy="861.59" r="3.1" fill="#111"/>
<circle cx="100.57" cy="820.61" r="3.1" fill="#111"/>
<circle cx="116.65" cy="861.10" r="3.1" fill="#111"/>
<circle cx="132.73" cy="866.95" r="3.1" fill="#111"/>
<circle cx="148.80" cy="904.27" r="3.1" fill="#111"/>
<circle cx="164.88" cy="883.78" r="3.1" fill="#111"/>
<circle cx="180.95" cy="908.66" r="3.1" fill="#111"/>
<line x1="38.7" x2="42.7" y1="915.40" y2="915.40" stroke="#aaa" stroke-width="0.8"/>
<text x="36.7" y="919.50" font-size="11.5" fill="#333" text-anchor="end">0</text>
<line x1="38.7" x2="42.7" y1="866.40" y2="866.40" stroke="#aaa" stroke-width="0.8"/>
<text x="36.7" y="870.50" font-size="11.5" fill="#333" text-anchor="end">2</text>
<line x1="38.7" x2="42.7" y1="817.40" y2="817.40" stroke="#aaa" stroke-width="0.8"/>
<text x="36.7" y="821.50" font-size="11.5" fill="#333" text-anchor="end">4</text>
<line x1="38.7" x2="42.7" y1="768.40" y2="768.40" stroke="#aaa" stroke-width="0.8"/>
<text x="36.7" y="772.50" font-size="11.5" fill="#333" text-anchor="end">6</text>
<line x1="38.7" x2="42.7" y1="719.40" y2="719.40" stroke="#aaa" stroke-width="0.8"/>
<text x="36.7" y="723.50" font-size="11.5" fill="#333" text-anchor="end">8</text>
<text transform="translate(20,812.40) rotate(-90)" font-size="14" fill="#222" text-anchor="middle">log2(CPM+1)</text>
<text transform="translate(50.25,952.80) rotate(-46.5)" font-size="10.8" fill="#333" text-anchor="end" dy="0.72em">oocyte</text>
<text transform="translate(66.92,952.80) rotate(-46.5)" font-size="10.8" fill="#333" text-anchor="end" dy="0.72em">zygote</text>
<text transform="translate(82.70,952.80) rotate(-46.5)" font-size="10.8" fill="#333" text-anchor="end" dy="0.72em">2-cell</text>
<text transform="translate(98.57,952.80) rotate(-46.5)" font-size="10.8" fill="#333" text-anchor="end" dy="0.72em">4-cell</text>
<text transform="translate(114.25,952.80) rotate(-46.5)" font-size="10.8" fill="#333" text-anchor="end" dy="0.72em">8-cell</text>
<text transform="translate(131.33,952.80) rotate(-46.5)" font-size="10.8" fill="#333" text-anchor="end" dy="0.72em">morula</text>
<text transform="translate(147.10,952.80) rotate(-46.5)" font-size="10.8" fill="#333" text-anchor="end" dy="0.72em">blastocyst</text>
<text transform="translate(165.48,952.80) rotate(-46.5)" font-size="10.8" fill="#333" text-anchor="end" dy="0.72em">ESC(P0)</text>
<text transform="translate(183.85,952.80) rotate(-46.5)" font-size="10.8" fill="#333" text-anchor="end" dy="0.72em">ESC(P10)</text>
<rect x="205.3" y="714.6" width="146.8" height="234.39999999999998" fill="#fff"/>
<line x1="205.3" x2="352.1" y1="940.40" y2="940.40" stroke="#ebebeb" stroke-width="0.8"/>
<line x1="205.3" x2="352.1" y1="891.07" y2="891.07" stroke="#ebebeb" stroke-width="0.8"/>
<line x1="205.3" x2="352.1" y1="841.73" y2="841.73" stroke="#ebebeb" stroke-width="0.8"/>
<line x1="205.3" x2="352.1" y1="792.40" y2="792.40" stroke="#ebebeb" stroke-width="0.8"/>
<line x1="205.3" x2="352.1" y1="743.07" y2="743.07" stroke="#ebebeb" stroke-width="0.8"/>
<line x1="205.3" x2="352.1" y1="915.73" y2="915.73" stroke="#dcdcdc" stroke-width="1"/>
<line x1="205.3" x2="352.1" y1="866.40" y2="866.40" stroke="#dcdcdc" stroke-width="1"/>
<line x1="205.3" x2="352.1" y1="817.07" y2="817.07" stroke="#dcdcdc" stroke-width="1"/>
<line x1="205.3" x2="352.1" y1="767.73" y2="767.73" stroke="#dcdcdc" stroke-width="1"/>
<line x1="205.3" x2="352.1" y1="718.40" y2="718.40" stroke="#dcdcdc" stroke-width="1"/>
<line x1="214.87" x2="214.87" y1="714.6" y2="949.0" stroke="#dcdcdc" stroke-width="1"/>
<line x1="230.83" x2="230.83" y1="714.6" y2="949.0" stroke="#dcdcdc" stroke-width="1"/>
<line x1="246.79" x2="246.79" y1="714.6" y2="949.0" stroke="#dcdcdc" stroke-width="1"/>
<line x1="262.74" x2="262.74" y1="714.6" y2="949.0" stroke="#dcdcdc" stroke-width="1"/>
<line x1="278.70" x2="278.70" y1="714.6" y2="949.0" stroke="#dcdcdc" stroke-width="1"/>
<line x1="294.66" x2="294.66" y1="714.6" y2="949.0" stroke="#dcdcdc" stroke-width="1"/>
<line x1="310.61" x2="310.61" y1="714.6" y2="949.0" stroke="#dcdcdc" stroke-width="1"/>
<line x1="326.57" x2="326.57" y1="714.6" y2="949.0" stroke="#dcdcdc" stroke-width="1"/>
<line x1="342.53" x2="342.53" y1="714.6" y2="949.0" stroke="#dcdcdc" stroke-width="1"/>
<rect x="205.3" y="714.6" width="146.8" height="234.39999999999998" fill="none" stroke="#b4b4b4" stroke-width="1.2"/>
<rect x="204.70000000000002" y="690.2" width="148.0" height="24.399999999999977" fill="#b2b1ba"/>
<text x="280.55" y="706.00" font-size="14" font-weight="bold" fill="#fff" text-anchor="middle" textLength="39.70" lengthAdjust="spacingAndGlyphs">HSATI</text>
<path d="M207.61,895.61H222.13M207.61,904.19H222.13M214.87,895.61V904.19M223.57,895.61H238.09M223.57,904.92H238.09M230.83,895.61V904.92M239.53,903.45H254.05M239.53,909.09H254.05M246.79,903.45V909.09M255.48,870.62H270.00M255.48,916.68H270.00M262.74,870.62V916.68M271.44,890.22H285.96M271.44,921.09H285.96M278.70,890.22V921.09M287.40,876.01H301.92M287.40,919.87H301.92M294.66,876.01V919.87M303.35,905.41H317.87M303.35,921.09H317.87M310.61,905.41V921.09M319.31,915.46H333.83M319.31,915.46H333.83M326.57,915.46V915.46M335.27,912.76H349.79M335.27,916.68H349.79M342.53,912.76V916.68" stroke="#35307a" stroke-width="1.25" fill="none"/>
<polyline points="214.87,900.02 230.83,900.27 246.79,906.39 262.74,893.65 278.70,905.90 294.66,897.33 310.61,912.76 326.57,915.46 342.53,914.72" stroke="#111" stroke-width="2.6" fill="none" stroke-linejoin="round"/>
<circle cx="214.87" cy="900.02" r="3.1" fill="#111"/>
<circle cx="230.83" cy="900.27" r="3.1" fill="#111"/>
<circle cx="246.79" cy="906.39" r="3.1" fill="#111"/>
<circle cx="262.74" cy="893.65" r="3.1" fill="#111"/>
<circle cx="278.70" cy="905.90" r="3.1" fill="#111"/>
<circle cx="294.66" cy="897.33" r="3.1" fill="#111"/>
<circle cx="310.61" cy="912.76" r="3.1" fill="#111"/>
<circle cx="326.57" cy="915.46" r="3.1" fill="#111"/>
<circle cx="342.53" cy="914.72" r="3.1" fill="#111"/>
<text transform="translate(210.77,953.00) rotate(-46.5)" font-size="10.8" fill="#333" text-anchor="end" dy="0.72em">oocyte</text>
<text transform="translate(227.33,953.00) rotate(-46.5)" font-size="10.8" fill="#333" text-anchor="end" dy="0.72em">zygote</text>
<text transform="translate(242.99,953.00) rotate(-46.5)" font-size="10.8" fill="#333" text-anchor="end" dy="0.72em">2-cell</text>
<text transform="translate(258.74,953.00) rotate(-46.5)" font-size="10.8" fill="#333" text-anchor="end" dy="0.72em">4-cell</text>
<text transform="translate(274.30,953.00) rotate(-46.5)" font-size="10.8" fill="#333" text-anchor="end" dy="0.72em">8-cell</text>
<text transform="translate(291.26,953.00) rotate(-46.5)" font-size="10.8" fill="#333" text-anchor="end" dy="0.72em">Morula</text>
<text transform="translate(306.91,953.00) rotate(-46.5)" font-size="10.8" fill="#333" text-anchor="end" dy="0.72em">blastocyst</text>
<text transform="translate(326.17,953.00) rotate(-46.5)" font-size="10.8" fill="#333" text-anchor="end" dy="0.72em">ESC(P0)</text>
<text transform="translate(344.43,953.00) rotate(-46.5)" font-size="10.8" fill="#333" text-anchor="end" dy="0.72em">ESC(P10)</text>
<rect x="365.6" y="714.6" width="150.69999999999993" height="233.0" fill="#fff"/>
<line x1="365.6" x2="516.3" y1="939.60" y2="939.60" stroke="#ebebeb" stroke-width="0.8"/>
<line x1="365.6" x2="516.3" y1="890.40" y2="890.40" stroke="#ebebeb" stroke-width="0.8"/>
<line x1="365.6" x2="516.3" y1="841.20" y2="841.20" stroke="#ebebeb" stroke-width="0.8"/>
<line x1="365.6" x2="516.3" y1="792.00" y2="792.00" stroke="#ebebeb" stroke-width="0.8"/>
<line x1="365.6" x2="516.3" y1="742.80" y2="742.80" stroke="#ebebeb" stroke-width="0.8"/>
<line x1="365.6" x2="516.3" y1="915.00" y2="915.00" stroke="#dcdcdc" stroke-width="1"/>
<line x1="365.6" x2="516.3" y1="865.80" y2="865.80" stroke="#dcdcdc" stroke-width="1"/>
<line x1="365.6" x2="516.3" y1="816.60" y2="816.60" stroke="#dcdcdc" stroke-width="1"/>
<line x1="365.6" x2="516.3" y1="767.40" y2="767.40" stroke="#dcdcdc" stroke-width="1"/>
<line x1="365.6" x2="516.3" y1="718.20" y2="718.20" stroke="#dcdcdc" stroke-width="1"/>
<line x1="375.43" x2="375.43" y1="714.6" y2="947.6" stroke="#dcdcdc" stroke-width="1"/>
<line x1="391.81" x2="391.81" y1="714.6" y2="947.6" stroke="#dcdcdc" stroke-width="1"/>
<line x1="408.19" x2="408.19" y1="714.6" y2="947.6" stroke="#dcdcdc" stroke-width="1"/>
<line x1="424.57" x2="424.57" y1="714.6" y2="947.6" stroke="#dcdcdc" stroke-width="1"/>
<line x1="440.95" x2="440.95" y1="714.6" y2="947.6" stroke="#dcdcdc" stroke-width="1"/>
<line x1="457.33" x2="457.33" y1="714.6" y2="947.6" stroke="#dcdcdc" stroke-width="1"/>
<line x1="473.71" x2="473.71" y1="714.6" y2="947.6" stroke="#dcdcdc" stroke-width="1"/>
<line x1="490.09" x2="490.09" y1="714.6" y2="947.6" stroke="#dcdcdc" stroke-width="1"/>
<line x1="506.47" x2="506.47" y1="714.6" y2="947.6" stroke="#dcdcdc" stroke-width="1"/>
<rect x="365.6" y="714.6" width="150.69999999999993" height="233.0" fill="none" stroke="#b4b4b4" stroke-width="1.2"/>
<rect x="365.0" y="690.3" width="151.89999999999992" height="24.300000000000068" fill="#b2b1ba"/>
<text x="442.90" y="706.00" font-size="14" font-weight="bold" fill="#fff" text-anchor="middle" textLength="44.40" lengthAdjust="spacingAndGlyphs">HSATII</text>
<path d="M367.98,913.02H382.88M367.98,914.98H382.88M375.43,913.02V914.98M384.36,912.54H399.26M384.36,914.49H399.26M391.81,912.54V914.49M400.74,913.02H415.64M400.74,914.98H415.64M408.19,913.02V914.98M417.12,829.82H432.02M417.12,934.50H432.02M424.57,829.82V934.50M433.50,822.99H448.40M433.50,899.36H448.40M440.95,822.99V899.36M449.88,810.30H464.78M449.88,904.48H464.78M457.33,810.30V904.48M466.26,908.39H481.16M466.26,915.71H481.16M473.71,908.39V915.71M482.64,896.92H497.54M482.64,920.34H497.54M490.09,896.92V920.34M499.02,899.85H513.92M499.02,917.66H513.92M506.47,899.85V917.66" stroke="#35307a" stroke-width="1.25" fill="none"/>
<polyline points="375.43,914.00 391.81,913.51 408.19,914.00 424.57,881.79 440.95,861.30 457.33,857.64 473.71,912.05 490.09,908.39 506.47,908.63" stroke="#111" stroke-width="2.6" fill="none" stroke-linejoin="round"/>
<circle cx="375.43" cy="914.00" r="3.1" fill="#111"/>
<circle cx="391.81" cy="913.51" r="3.1" fill="#111"/>
<circle cx="408.19" cy="914.00" r="3.1" fill="#111"/>
<circle cx="424.57" cy="881.79" r="3.1" fill="#111"/>
<circle cx="440.95" cy="861.30" r="3.1" fill="#111"/>
<circle cx="457.33" cy="857.64" r="3.1" fill="#111"/>
<circle cx="473.71" cy="912.05" r="3.1" fill="#111"/>
<circle cx="490.09" cy="908.39" r="3.1" fill="#111"/>
<circle cx="506.47" cy="908.63" r="3.1" fill="#111"/>
<text transform="translate(371.33,951.60) rotate(-46.5)" font-size="10.8" fill="#333" text-anchor="end" dy="0.72em">oocyte</text>
<text transform="translate(388.31,951.60) rotate(-46.5)" font-size="10.8" fill="#333" text-anchor="end" dy="0.72em">zygote</text>
<text transform="translate(404.39,951.60) rotate(-46.5)" font-size="10.8" fill="#333" text-anchor="end" dy="0.72em">2-cell</text>
<text transform="translate(420.57,951.60) rotate(-46.5)" font-size="10.8" fill="#333" text-anchor="end" dy="0.72em">4-cell</text>
<text transform="translate(436.55,951.60) rotate(-46.5)" font-size="10.8" fill="#333" text-anchor="end" dy="0.72em">8-cell</text>
<text transform="translate(453.93,951.60) rotate(-46.5)" font-size="10.8" fill="#333" text-anchor="end" dy="0.72em">morula</text>
<text transform="translate(470.01,951.60) rotate(-46.5)" font-size="10.8" fill="#333" text-anchor="end" dy="0.72em">blastocyst</text>
<text transform="translate(489.69,951.60) rotate(-46.5)" font-size="10.8" fill="#333" text-anchor="end" dy="0.72em">ESC(P0)</text>
<text transform="translate(508.37,951.60) rotate(-46.5)" font-size="10.8" fill="#333" text-anchor="end" dy="0.72em">ESC(P10)</text>
<rect x="530.9" y="715.0" width="150.30000000000007" height="234.0" fill="#fff"/>
<line x1="530.9" x2="681.2" y1="938.60" y2="938.60" stroke="#ebebeb" stroke-width="0.8"/>
<line x1="530.9" x2="681.2" y1="889.80" y2="889.80" stroke="#ebebeb" stroke-width="0.8"/>
<line x1="530.9" x2="681.2" y1="841.00" y2="841.00" stroke="#ebebeb" stroke-width="0.8"/>
<line x1="530.9" x2="681.2" y1="792.20" y2="792.20" stroke="#ebebeb" stroke-width="0.8"/>
<line x1="530.9" x2="681.2" y1="743.40" y2="743.40" stroke="#ebebeb" stroke-width="0.8"/>
<line x1="530.9" x2="681.2" y1="914.20" y2="914.20" stroke="#dcdcdc" stroke-width="1"/>
<line x1="530.9" x2="681.2" y1="865.40" y2="865.40" stroke="#dcdcdc" stroke-width="1"/>
<line x1="530.9" x2="681.2" y1="816.60" y2="816.60" stroke="#dcdcdc" stroke-width="1"/>
<line x1="530.9" x2="681.2" y1="767.80" y2="767.80" stroke="#dcdcdc" stroke-width="1"/>
<line x1="530.9" x2="681.2" y1="719.00" y2="719.00" stroke="#dcdcdc" stroke-width="1"/>
<line x1="540.70" x2="540.70" y1="715.0" y2="949.0" stroke="#dcdcdc" stroke-width="1"/>
<line x1="557.04" x2="557.04" y1="715.0" y2="949.0" stroke="#dcdcdc" stroke-width="1"/>
<line x1="573.38" x2="573.38" y1="715.0" y2="949.0" stroke="#dcdcdc" stroke-width="1"/>
<line x1="589.71" x2="589.71" y1="715.0" y2="949.0" stroke="#dcdcdc" stroke-width="1"/>
<line x1="606.05" x2="606.05" y1="715.0" y2="949.0" stroke="#dcdcdc" stroke-width="1"/>
<line x1="622.39" x2="622.39" y1="715.0" y2="949.0" stroke="#dcdcdc" stroke-width="1"/>
<line x1="638.72" x2="638.72" y1="715.0" y2="949.0" stroke="#dcdcdc" stroke-width="1"/>
<line x1="655.06" x2="655.06" y1="715.0" y2="949.0" stroke="#dcdcdc" stroke-width="1"/>
<line x1="671.40" x2="671.40" y1="715.0" y2="949.0" stroke="#dcdcdc" stroke-width="1"/>
<rect x="530.9" y="715.0" width="150.30000000000007" height="234.0" fill="none" stroke="#b4b4b4" stroke-width="1.2"/>
<rect x="530.3" y="691.0" width="151.50000000000006" height="24.0" fill="#b2b1ba"/>
<text x="609.00" y="706.40" font-size="14" font-weight="bold" fill="#fff" text-anchor="middle" textLength="51.00" lengthAdjust="spacingAndGlyphs">REP522</text>
<path d="M533.27,807.43H548.14M533.27,818.58H548.14M540.70,807.43V818.58M549.61,853.75H564.47M549.61,862.23H564.47M557.04,853.75V862.23M565.94,853.02H580.81M565.94,878.72H580.81M573.38,853.02V878.72M582.28,838.95H597.15M582.28,877.02H597.15M589.71,838.95V877.02M598.62,750.92H613.48M598.62,786.81H613.48M606.05,750.92V786.81M614.95,769.36H629.82M614.95,810.10H629.82M622.39,769.36V810.10M631.29,872.17H646.16M631.29,921.89H646.16M638.72,872.17V921.89M647.63,888.66H662.49M647.63,920.92H662.49M655.06,888.66V920.92M663.96,864.90H678.83M663.96,926.50H678.83M671.40,864.90V926.50" stroke="#35307a" stroke-width="1.25" fill="none"/>
<polyline points="540.70,812.76 557.04,857.62 573.38,865.63 589.71,857.62 606.05,769.11 622.39,789.73 638.72,897.15 655.06,904.91 671.40,895.70" stroke="#111" stroke-width="2.6" fill="none" stroke-linejoin="round"/>
<circle cx="540.70" cy="812.76" r="3.1" fill="#111"/>
<circle cx="557.04" cy="857.62" r="3.1" fill="#111"/>
<circle cx="573.38" cy="865.63" r="3.1" fill="#111"/>
<circle cx="589.71" cy="857.62" r="3.1" fill="#111"/>
<circle cx="606.05" cy="769.11" r="3.1" fill="#111"/>
<circle cx="622.39" cy="789.73" r="3.1" fill="#111"/>
<circle cx="638.72" cy="897.15" r="3.1" fill="#111"/>
<circle cx="655.06" cy="904.91" r="3.1" fill="#111"/>
<circle cx="671.40" cy="895.70" r="3.1" fill="#111"/>
<text transform="translate(536.60,953.00) rotate(-46.5)" font-size="10.8" fill="#333" text-anchor="end" dy="0.72em">oocyte</text>
<text transform="translate(553.54,953.00) rotate(-46.5)" font-size="10.8" fill="#333" text-anchor="end" dy="0.72em">zygote</text>
<text transform="translate(569.58,953.00) rotate(-46.5)" font-size="10.8" fill="#333" text-anchor="end" dy="0.72em">2-cell</text>
<text transform="translate(585.71,953.00) rotate(-46.5)" font-size="10.8" fill="#333" text-anchor="end" dy="0.72em">4-cell</text>
<text transform="translate(601.65,953.00) rotate(-46.5)" font-size="10.8" fill="#333" text-anchor="end" dy="0.72em">8-cell</text>
<text transform="translate(618.99,953.00) rotate(-46.5)" font-size="10.8" fill="#333" text-anchor="end" dy="0.72em">morula</text>
<text transform="translate(635.02,953.00) rotate(-46.5)" font-size="10.8" fill="#333" text-anchor="end" dy="0.72em">blastocyst</text>
<text transform="translate(654.66,953.00) rotate(-46.5)" font-size="10.8" fill="#333" text-anchor="end" dy="0.72em">ESC(P0)</text>
<text transform="translate(673.30,953.00) rotate(-46.5)" font-size="10.8" fill="#333" text-anchor="end" dy="0.72em">ESC(P10)</text>
</svg>
</body></html>
